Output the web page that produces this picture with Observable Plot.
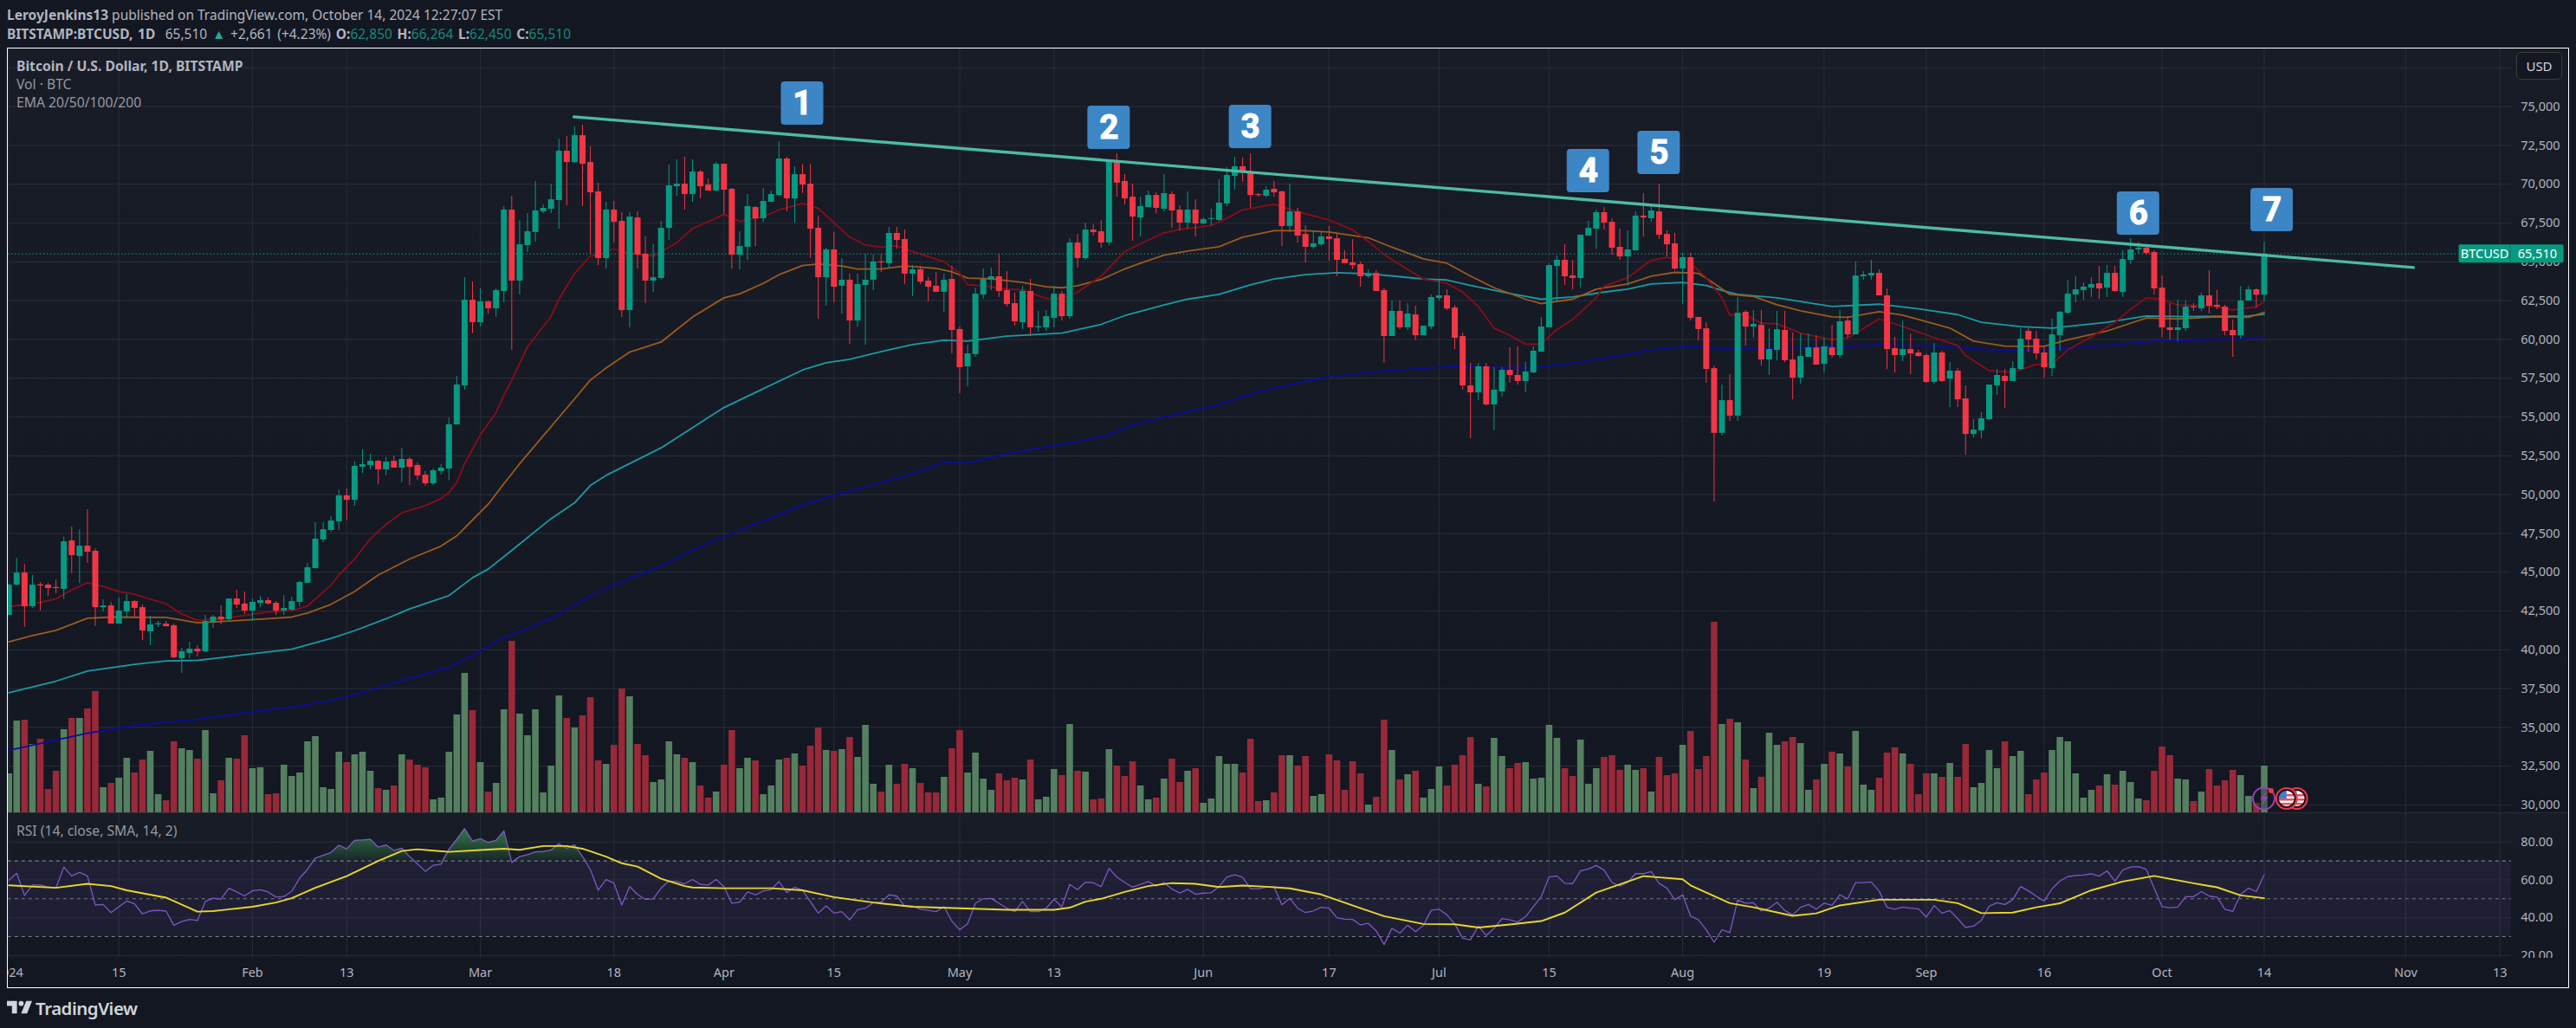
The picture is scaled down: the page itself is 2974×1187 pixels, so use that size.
<!DOCTYPE html>
<html><head><meta charset="utf-8">
<script src="https://cdn.jsdelivr.net/npm/d3@7"></script>
<script src="https://cdn.jsdelivr.net/npm/@observablehq/plot@0.6"></script>
<style>
html,body{margin:0;padding:0;background:#131722;overflow:hidden;width:2974px;height:1187px}
body{font-family:"Noto Sans",sans-serif;color:#b2b5be;position:relative}
.abs{position:absolute;white-space:nowrap}
.pane{position:absolute;overflow:hidden;left:9px;width:2956px}
.pane svg{position:absolute;left:0;top:0;max-width:none;background:transparent;overflow:hidden}
b{font-weight:700}
.t{color:#15897a}
</style></head><body>
<div class="abs" style="left:8px;top:6px;font-size:15.5px;line-height:22px"><b>LeroyJenkins13</b> published on TradingView.com, October 14, 2024 12:27:07 EST</div>
<div class="abs" style="left:8px;top:28px;font-size:15.5px;line-height:22px;word-spacing:1.7px"><b>BITSTAMP:BTCUSD, 1D</b>&nbsp; 65,510 <span style="color:#26a69a">▲</span> +2,661 (+4.23%) <b>O:</b><span class="t">62,850</span> <b>H:</b><span class="t">66,264</span> <b>L:</b><span class="t">62,450</span> <b>C:</b><span class="t">65,510</span></div>
<div class="pane" id="main" style="top:56px;height:882px;background:linear-gradient(#181c27,#131722)"></div>
<div class="abs" style="left:8px;top:938px;width:2957px;height:1.5px;background:#2a2e39"></div>
<div class="pane" id="rsi" style="top:939px;height:167px;background:linear-gradient(#181c27,#131722)"></div>
<div class="pane" id="time" style="top:1106px;height:34px"></div>
<div class="abs" style="left:19px;top:66px;font-size:15.7px;line-height:21px;color:#b2b5be"><b>Bitcoin / U.S. Dollar, 1D, BITSTAMP</b><br><span style="color:#9598a1">Vol · BTC</span><br><span style="color:#9598a1">EMA 20/50/100/200</span></div>
<div class="abs" style="left:19px;top:949px;font-size:15.7px;line-height:21px;color:#9598a1">RSI (14, close, SMA, 14, 2)</div>
<div class="abs" style="left:2905px;top:60px;width:51px;height:30px;border:1.5px solid #3d3b3a;border-radius:6px;background:#131722;color:#d1d4dc;font-size:15px;line-height:30px;text-align:center">USD</div>
<div class="abs" style="left:8px;top:55px;width:2956px;height:1084px;border:1.5px solid #fff"></div>
<svg class="abs" style="left:8px;top:1155px" width="29" height="16" viewBox="2 6 30 15"><path fill="#d1d4dc" d="M14 6H2v6h6v9h6V6Zm12 15h-7l6-15h7l-6 15Zm-7-9a3 3 0 1 0 0-6 3 3 0 0 0 0 6Z"/></svg>
<div class="abs" style="left:41px;top:1149px;font-size:20.5px;line-height:30px;font-weight:600;color:#d1d4dc;letter-spacing:-.5px">TradingView</div>
<script>
const startDate = Date.UTC(2024, 0, 1);
const day = i => new Date(startDate + i * 864e5);

const opens = [42220,44170,44950,42780,44170,44170,44020,43900,47020,46010,
46680,46350,42720,42830,41660,42440,43110,42720,41160,41610,
41660,41550,39430,39770,40040,39880,41770,42110,41940,43280,
42950,42500,43000,43170,43000,42500,42560,43060,44290,45230,
47080,47690,48250,49920,49640,51770,51880,52150,51600,52150,
51710,52270,51880,51260,50700,51490,51650,54500,57010,62530,
61080,62420,61980,63090,68340,63760,66050,66890,68220,68390,
68950,72130,71390,73130,71400,69510,65210,68340,67610,61860,
67830,65490,63760,63930,67160,69840,70010,69340,70790,69950,
69560,71290,69680,65430,65940,68500,67780,68840,69280,71630,
69060,70620,70010,67160,63980,65770,63430,63820,61190,63480,
63820,64990,64880,66830,66440,64210,64490,63760,63430,63040,
63870,60640,58240,59020,62870,63820,64040,63150,62310,61080,
63090,60750,60750,61360,62920,61470,66220,65210,67050,66940,
66220,71460,70180,69170,67830,68500,69280,68390,69340,68340,
67500,68340,67440,67720,67670,68730,70510,71130,70790,69300,
69230,69680,69510,67280,68220,66770,65940,66100,66610,66490,
65160,64930,64820,64040,64260,63150,60190,61810,60750,61580,
60240,60800,62640,62810,62030,60190,57010,56560,58240,55780,
56620,58010,57680,57290,57850,59180,60750,64710,65100,64100,
63930,66660,67110,68170,67550,65940,65320,65710,67950,67780,
68220,66770,66160,64540,65270,61420,60690,58120,53950,56060,
55060,61750,60800,60910,58680,59300,60580,58680,57510,58850,
59460,58400,59460,58960,61190,60300,64040,64090,64260,62810,
59410,58960,59350,59130,58960,57230,59130,57450,57960,56170,
53880,54110,54830,57010,57620,57290,58070,60520,60020,59130,
58120,60240,61690,62870,63150,63310,63590,63310,64260,63030,
65100,65770,65880,65600,63310,60750,60580,60690,62090,61970,
62810,62200,62090,60580,60240,62480,63200,62850];
const highs = [44230,45900,45510,44790,44340,44270,44510,47280,47910,47740,
49030,46520,43220,43060,43340,43560,43170,42890,42160,41830,
41830,41660,40100,40490,40270,42220,42220,42830,43280,43840,
43730,43280,43450,43340,43110,43500,43390,44400,45570,48190,
48190,48580,50310,50370,52100,52880,52600,52210,52380,52490,
52990,52380,52040,51490,51650,51930,54940,57620,63980,63710,
63260,62480,63260,68560,69230,67670,68110,70180,68670,70010,
72910,73080,73690,73800,72410,70070,68840,68890,68170,68170,
68220,66610,66100,67610,71240,71570,71740,71570,70900,70340,
71400,71290,69730,66940,69340,68560,69730,69560,72740,71740,
71130,71290,71290,67950,65880,66890,65210,64210,64210,65490,
65430,65490,67220,67220,67050,64760,64710,63980,64320,64210,
64710,60800,59630,63310,64540,64600,65490,64370,62980,63430,
63870,61810,61860,63430,63090,66490,66770,67500,67390,67670,
71570,71960,70620,70010,69170,69560,69450,70620,69510,68610,
69510,69000,67830,68390,70290,71070,71740,71680,71960,69400,
69840,70180,69560,70010,68450,67330,67000,66890,67280,66770,
65710,66440,64990,64490,64430,63310,62480,62480,62310,62140,
60860,62870,63870,63200,62200,60410,58460,58460,58460,58180,
58180,59460,59520,58520,59520,61420,64880,65380,66100,65100,
66720,67610,68340,68500,67780,67110,67000,68220,69400,68730,
70010,67000,66830,65550,65550,61420,61080,58290,57060,57730,
62700,61860,61860,61860,60690,61810,61810,60410,60360,60360,
60240,60080,60910,61860,61470,64990,64370,65100,64480,63260,
60130,61190,60360,59300,59070,59740,59240,58510,58120,57010,
54830,55280,57060,58070,58070,58570,60690,60690,60520,59520,
61300,61810,63820,64040,63650,63980,64710,64760,64710,65710,
66490,66270,65990,65710,64090,62310,62530,62480,62310,62980,
64430,63150,62200,61250,63420,63420,63260,66264];
const lows = [42200,44140,41460,42680,42500,43450,43630,43240,44920,44270,
45570,41500,42440,41660,41660,42050,42110,40600,40270,41440,
41490,39430,38480,39430,39540,39820,41380,41610,41850,42670,
42280,41830,42720,42890,42220,42220,42500,42780,44290,45230,
46910,47580,47690,48300,49250,51370,51600,50650,51210,51710,
50760,50590,50930,50540,50590,51260,50930,54500,56730,60360,
60800,61640,61420,62370,59300,62870,65600,66270,68110,68110,
67110,68610,71350,68560,65490,64760,64540,66220,61420,60750,
64540,62310,63040,63820,66380,69230,68340,68840,69060,69560,
69560,68060,64540,64490,65100,65990,67520,68840,69280,68220,
67500,69400,65210,61310,62140,62370,61640,59690,60800,59630,
63150,64320,64540,65830,63540,62760,63540,62420,63040,61750,
59070,56510,56950,58850,62590,63150,62700,62090,60860,60640,
60190,60470,60520,60750,61190,61310,64600,65100,66660,65880,
66030,69170,68670,66330,66610,68500,68110,68220,67160,67000,
67110,66610,67390,67330,67610,68560,69620,70120,68450,69170,
69120,69170,65990,66890,66220,64930,65820,65990,65040,64040,
64880,64490,63370,63930,63090,58460,60190,60640,60580,59910,
60240,60640,62480,61860,59350,56730,53600,56060,55720,54130,
56280,57180,57060,56560,57790,59180,60750,62420,63480,63200,
63310,66660,65820,67050,65430,65100,63430,65710,66610,67550,
66440,65320,64430,62250,61190,59910,57180,49530,53780,54720,
54720,59570,60080,58290,57680,58630,58510,56110,57120,58850,
58350,57840,58790,58790,60080,60300,63820,63820,62810,58070,
57840,58570,57730,58850,57180,57120,57230,55610,55610,52540,
53660,53600,54780,56390,55560,57290,58010,59150,58680,57510,
57620,59240,61640,62360,62530,62700,62590,62700,63030,62700,
64820,65490,65430,62870,60130,59960,59850,60520,61810,61810,
61640,61920,60240,58850,60020,62480,62030,62450];
const closes = [44170,44950,42780,44170,44120,43950,43950,46960,46070,46680,
46290,42720,42830,41660,42500,43110,42670,41220,41610,41660,
41490,39490,39880,40040,39880,41830,42110,41920,43280,42890,
42500,43060,43170,42950,42500,42670,43110,44340,45290,47130,
47740,48300,49920,49640,51820,51930,52150,51600,52100,51710,
52270,51760,51210,50700,51540,51710,54500,57070,62530,61080,
62420,61980,63150,68340,63760,66100,66940,68280,68450,69000,
72130,71400,73130,71290,69450,65210,68340,67550,61860,67890,
65430,63760,63980,67160,69900,70010,69340,70790,69840,69560,
71290,69620,65430,65990,68560,67780,68890,69340,71630,69060,
70620,69950,67110,63980,65770,63370,63820,61190,63540,63820,
64990,64930,66830,66380,64210,64490,63700,63370,63040,63820,
60580,58180,59070,62920,63870,64040,63090,62250,61140,63090,
60750,60800,61470,62920,61470,66220,65210,67050,66890,66220,
71460,70070,69060,67890,68560,69280,68450,69400,68280,67500,
68340,67440,67720,67780,68780,70570,71130,70740,69280,69270,
69620,69450,67280,68220,66660,65940,66160,66610,66440,65100,
64880,64760,64040,64210,63090,60190,61810,60750,61640,60240,
60860,62700,62810,61970,60080,57010,56560,58240,55780,56730,
58010,57680,57290,57900,59240,60800,64760,65100,64040,63930,
66720,67160,68170,67500,65880,65320,65770,67950,67830,68280,
66720,66100,64540,65270,61360,60640,58070,53950,56060,55060,
61690,60800,60970,58680,59350,60630,58630,57510,58900,59460,
58350,59520,58960,61140,60300,64090,64150,64260,62810,59350,
58960,59350,59070,58900,57230,59130,57290,57960,56110,53880,
54160,54890,57060,57680,57290,58120,60020,59960,59070,58180,
60300,61750,62920,63200,63370,63540,63260,64260,63090,65150,
65770,65880,65540,63260,60750,60580,60750,62090,62030,62810,
62140,62090,60520,60240,62480,63200,62850,65510];
// estimated volume, in hundreds of BTC
const volumes = [45,106,107,79,85,27,48,96,109,109,
120,140,29,34,40,63,46,61,71,21,
14,82,74,72,62,95,22,37,63,62,
89,51,52,21,22,55,42,46,82,88,
29,27,70,58,67,70,48,28,26,31,
67,61,55,52,15,17,70,113,161,118,
58,24,34,119,198,114,89,119,23,54,
135,109,98,112,133,60,56,78,143,134,
79,66,35,38,82,67,63,58,
31,17,24,55,95,51,63,60,21,31,
61,63,68,54,77,98,72,71,73,87,
64,101,33,24,55,33,56,51,34,23,
23,41,74,95,46,69,39,26,45,37,
40,38,61,15,18,50,43,102,48,47,
15,16,73,54,42,59,31,15,17,39,
62,35,48,51,11,16,65,56,56,46,
85,13,14,23,66,66,54,65,19,21,
67,60,26,59,45,9,18,107,72,38,
44,48,17,27,53,31,55,66,87,33,
30,86,65,51,57,58,39,40,101,86,
51,42,84,33,51,64,66,49,55,49,
51,24,64,43,45,78,94,50,65,220,
102,108,104,61,28,41,92,78,82,87,
80,26,38,56,70,68,53,94,32,26,
40,69,75,68,56,21,45,45,41,57,
41,79,29,34,72,51,82,65,71,21,
38,46,72,87,82,45,17,26,31,44,
32,48,35,16,14,48,76,66,39,38,
13,24,50,31,37,49,43,19,11,54];
const rsiValues = [59.8,63.5,51.8,57.3,57.3,56.2,55.8,66.8,62.1,63.9,
62.1,46.7,47,42.7,45.8,48.8,47.3,42,43.6,43.9,
43.5,36,37.9,39.1,38.5,48.6,50.3,49.8,55.6,53.6,
51.5,54.2,54.8,53.6,50.9,51.2,53.9,60.9,65.5,71.5,
73,74.5,78.3,76.4,80.9,81.1,81.5,77.3,78.5,75.6,
76.8,72.3,68.5,64.5,67.7,68.3,76.1,81.4,87.1,80.5,
81.8,79.8,80.9,85.9,69.2,72.3,73.3,74.8,75,75.8,
79.1,76.7,78.5,72.3,65.5,54.5,60.2,58.3,46.7,56.4,
52.3,49.7,50,55.6,59.4,59.1,57.9,60.2,
57.6,57.3,60.2,56.4,47.6,48.2,53.6,52.1,54.1,54.8,
59.1,53.3,56.1,54.5,48.5,42.4,46.2,42.4,43.2,38.9,
44.2,45,48,48.2,52.1,51.4,46.2,46.2,44.5,43.9,
43.2,45.8,38.2,33.6,36.7,47.6,50,50.2,47.6,45,
43.2,48.6,43.2,43.2,45,49.7,45.8,57.6,54.8,58.8,
58.5,56.4,66.1,61.5,58.6,56.2,57.6,59.1,56.7,58.6,
55.2,53,55,52.4,53,53.2,56.4,61.5,62.7,61.4,
55.3,55.2,56.1,56.4,46.8,50.3,45,42.7,43.6,45.5,
45,40,39.2,39.1,36.2,37,33,25.8,34.4,31.8,
36.1,32.6,35.9,43.9,44.5,41.5,36.7,29.1,28.3,35.6,
30.6,34.4,39.5,38.9,37.7,40.5,45.8,51.1,61.5,62.1,
58.2,58,64.7,65.8,67.6,65.2,58.6,56.7,58.6,63.3,
63.3,64.4,58.2,55.6,49.5,52.1,40.9,38.9,33.6,27,
33.6,32.1,49.4,47.7,47.9,43.6,45,48.2,43.8,41.5,
45.5,47,44.5,47.7,46.5,52.1,50,58.6,58.6,58.9,
54.1,45.5,44.5,45.6,45,44.7,40.3,46.4,42.4,43.8,
39.5,34.8,35.5,38.6,46.1,47.9,47,49.5,56.5,54.2,
51.4,48.8,55.3,59.4,61.7,62.3,62.6,63.2,62,64.8,
59.4,65.2,66.8,67,65.5,55.6,45.8,45.3,45.6,51.1,
51.1,53.8,51.4,50.9,44.5,43.3,52.4,55.6,53.8,62.7];
// [day number from 1 Jan 2024, value] readings
const ema20 = [[0,42740],[1,42850],[3,42960],[6,43280],[8,43860],[10,44320],[12,44080],[14,43750],[16,43580],[20,42960],[22,42310],[24,41890],[27,42000],[30,42220],[33,42440],[36,42520],[38,42820],[41,44170],[42,44820],[44,45850],[46,47150],[48,48080],[50,48820],[53,49290],[55,49750],[56,50130],[57,50780],[58,51990],[60,53850],[62,55280],[63,56400],[64,57380],[66,59520],[69,61470],[70,62590],[72,64260],[74,65380],[75,65430],[77,65840],[79,65560],[82,65380],[85,66220],[87,67150],[90,67800],[91,68080],[93,67610],[95,67800],[96,67890],[98,68350],[101,68760],[103,68450],[105,67520],[107,66590],[109,66090],[111,65940],[113,66030],[115,65660],[119,65010],[121,64260],[122,63520],[124,63460],[127,63240],[129,63200],[132,62640],[134,62640],[136,63050],[139,64080],[142,65660],[145,66400],[147,66870],[149,67090],[153,67330],[155,67800],[157,68350],[161,68710],[164,68220],[168,67700],[171,67050],[173,66310],[175,65470],[177,64820],[180,63890],[183,63610],[185,63050],[187,62120],[189,60730],[191,60260],[193,59700],[195,59700],[197,60640],[199,61290],[202,62680],[203,63430],[206,63980],[209,65100],[211,65290],[214,64910],[216,63980],[218,62680],[219,61570],[221,61600],[223,61040],[225,61010],[228,60410],[232,59980],[234,60080],[238,61320],[241,60820],[245,60110],[248,59610],[249,58960],[252,57990],[255,57880],[258,58400],[260,58400],[262,59330],[265,60170],[268,61100],[270,61940],[272,62680],[274,62590],[276,62220],[280,62160],[283,61900],[286,62090],[287,62440]];
const ema50 = [[0,40510],[3,40920],[6,41250],[10,42030],[13,42110],[20,42090],[24,41740],[28,41850],[33,42000],[36,42110],[38,42370],[41,42930],[44,43760],[47,44820],[51,45850],[55,46680],[57,47340],[59,48360],[61,49380],[63,50700],[65,51990],[72,56170],[74,57380],[76,58160],[77,58500],[79,59180],[83,59830],[85,60640],[87,61440],[91,62680],[93,62930],[96,63610],[98,64170],[101,64760],[103,64860],[106,64730],[108,64540],[111,64540],[114,64730],[118,64580],[120,64360],[122,63950],[125,63910],[129,63670],[132,63390],[134,63330],[136,63460],[139,63860],[142,64540],[144,64910],[147,65430],[150,65690],[154,65970],[157,66590],[161,67000],[165,67000],[168,66920],[173,66550],[176,65940],[180,65190],[183,64910],[186,64080],[189,63330],[193,62590],[195,62310],[199,62590],[202,63240],[206,63570],[209,64080],[212,64320],[215,64260],[217,63610],[219,62900],[222,62770],[225,62230],[228,61840],[232,61450],[234,61420],[238,61790],[241,61560],[244,61140],[247,60730],[250,59890],[254,59570],[259,59560],[262,59980],[267,60540],[272,61380],[276,61320],[281,61450],[285,61420],[287,61750]];
const ema100 = [[0,37240],[6,37980],[10,38630],[16,39060],[20,39280],[24,39320],[27,39490],[31,39750],[36,40040],[41,40730],[44,41230],[48,42000],[51,42630],[56,43490],[59,44640],[61,45200],[64,46410],[69,48450],[72,49470],[74,50590],[76,51240],[83,53010],[91,55610],[96,56820],[101,58030],[104,58500],[107,58720],[112,59330],[115,59670],[119,59950],[122,59890],[127,60210],[134,60410],[139,60970],[142,61530],[147,62220],[150,62590],[154,62900],[158,63520],[161,63890],[165,64170],[169,64300],[173,64230],[177,64040],[180,63890],[183,63830],[186,63480],[191,62960],[195,62590],[199,62740],[203,63050],[206,63240],[209,63570],[213,63670],[216,63480],[218,63150],[220,62900],[225,62680],[232,62120],[238,62270],[243,61970],[248,61600],[251,61100],[256,60820],[260,60730],[267,61100],[272,61510],[277,61470],[285,61510],[287,61620]];
const ema200 = [[0,33520],[10,34630],[16,35120],[20,35340],[24,35520],[30,35930],[36,36310],[41,36730],[46,37380],[51,38170],[56,38870],[59,39620],[62,40550],[69,42000],[74,43430],[76,43990],[83,45380],[87,46400],[91,47300],[96,48300],[101,49330],[105,49940],[110,50630],[114,51190],[119,52080],[122,52040],[127,52640],[134,53230],[140,53850],[143,54500],[148,55090],[154,55800],[159,56640],[164,57190],[168,57570],[173,57880],[177,58030],[184,58270],[190,58180],[194,58180],[198,58400],[204,58870],[209,59330],[214,59560],[219,59410],[225,59440],[232,59520],[238,59650],[243,59610],[247,59520],[252,59330],[256,59280],[260,59370],[267,59610],[273,59890],[279,59980],[285,60040],[287,60150]];
const rsiSma = [[0,57.1],[6,55.8],[10,57.9],[13,56.7],[15,54.5],[20,50.6],[24,43.2],[26,43.5],[31,45.8],[34,48],[36,50.3],[39,55.8],[43,62],[47,70],[50,75.3],[52,76.2],[56,74.8],[60,75.8],[63,76.5],[65,75.9],[68,77.9],[71,77.9],[73,76.5],[76,72.3],[78,68.8],[80,67],[83,60.6],[86,56.7],[87,56],[91,55.6],[97,55.6],[101,54.5],[105,50.9],[110,48],[115,45.8],[121,45],[127,44.2],[133,44.2],[135,45.3],[137,48.5],[139,50],[142,53.6],[145,56.7],[148,58.3],[151,57.9],[154,56.2],[157,57],[160,56.4],[163,55.5],[167,52.3],[172,45],[175,40.8],[180,36.7],[184,36.5],[187,34.8],[191,36.4],[195,38.2],[198,42.7],[202,53.3],[205,57.6],[208,62],[213,60.3],[214,57.1],[219,47.7],[222,45.5],[227,41],[230,42.3],[233,46.5],[238,49.5],[245,49.5],[248,47.7],[251,42.4],[255,42.7],[258,45.5],[261,47.6],[265,54.5],[269,59.1],[273,62.1],[278,58.2],[281,56.1],[284,51.8],[287,50.3]];
const priceTicks = [30000,32500,35000,37500,40000,42500,45000,47500,50000,52500,55000,57500,60000,62500,65000,67500,70000,72500,75000,77500];
const rsiGrid = [20,40,60,80];
const rsiLevels = [30,50,70];
const timeTickDays = [0,14,31,43,60,77,91,105,121,133,152,168,182,196,213,231,244,259,274,287,305,317];
const timeTickLabels = ["2024","15","Feb","13","Mar","18","Apr","15","May","13","Jun","17","Jul","15","Aug","19","Sep","16","Oct","14","Nov","13"];
const trendDays = [71.9,306];
const trendPrices = [74345,64635];
const noteLabels = ["1","2","3","4","5","6","7"];
const noteDays = [101,140,158,201,210,271,288];
const notePrices = [75200,73640,73690,70850,72020,68110,68340];
const lastPrice = 65510;

const candles = opens.map((o,i)=>({date:day(i),open:o,high:highs[i],low:lows[i],close:closes[i],vol:volumes[i],rsi:rsiValues[i]}));
const up = candles.filter(d=>d.close>=d.open), down = candles.filter(d=>d.close<d.open);
const pts = a => a.map(([d,v])=>({date:day(d),v}));
const UP="#089981", DOWN="#f23645", LABEL="#b2b5be", FONT="Noto Sans", GRID="#262a35";
const W=2956, gridEnd=day(318.45);
const xScale = {type:"utc",domain:[day(-0.077),day(325.74)],range:[0,W],axis:null};
const priceDomain=[29498,78717];
const base={width:W,marginLeft:0,marginRight:0,marginTop:0,marginBottom:0,style:{background:"transparent"}};
const timeTicks=timeTickDays.map(day);

// grid, behind everything
const gridPlot = Plot.plot({...base,height:882,x:xScale,y:{domain:priceDomain,range:[882,0],axis:null},marks:[
  Plot.ruleX(timeTicks,{stroke:GRID,strokeWidth:1.2}),
  Plot.ruleY(priceTicks,{x1:day(-0.1),x2:gridEnd,stroke:GRID,strokeWidth:1.2})
]});
// volume
const volumePlot = Plot.plot({...base,height:882,x:xScale,y:{domain:[0,882],range:[882,0],axis:null},marks:[
  Plot.ruleX(up,{x:"date",y1:0,y2:"vol",stroke:"#558060",strokeWidth:7.6}),
  Plot.ruleX(down,{x:"date",y1:0,y2:"vol",stroke:"#992838",strokeWidth:7.6})
]});
const iconMark = (index,{x,y})=>{
  const g=d3.create("svg:g");
  const py=y(30391);
  const flag=(cx,id)=>{
    const f=g.append("g").attr("transform",`translate(${x(day(cx))},${py})`);
    f.append("clipPath").attr("id",id).append("circle").attr("r",9.5);
    const c=f.append("g").attr("clip-path",`url(#${id})`);
    c.append("rect").attr("x",-10).attr("y",-10).attr("width",20).attr("height",20).attr("fill","#fff");
    [-5,0,5].forEach(s=>c.append("rect").attr("x",-10).attr("y",s).attr("width",20).attr("height",2.5).attr("fill","#ef4d5a"));
    c.append("rect").attr("x",-10).attr("y",-10).attr("width",10).attr("height",10).attr("fill","#3d7fd6");
    f.append("circle").attr("r",10).attr("fill","none").attr("stroke","#131722").attr("stroke-width",2);
    f.append("circle").attr("r",12).attr("fill","none").attr("stroke","#f23645").attr("stroke-width",2);
  };
  flag(291.2,"fb"); flag(289.9,"fa");
  const p=g.append("g").attr("transform",`translate(${x(day(287))},${py})`);
  p.append("circle").attr("r",12.5).attr("fill","#131722").attr("fill-opacity",.3).attr("stroke","#9c3fb5").attr("stroke-width",2);
  p.append("path").attr("d","M3,-9 L-4,1 L0,1 L-3,9 L5,-2 L1,-2 Z").attr("fill","#9c3fb5");
  p.append("circle").attr("cx",8.5).attr("cy",-9).attr("r",3).attr("fill","#f23645");
  return g.node();
};
// prices, averages and annotations
const overlay = Plot.plot({...base,height:882,x:xScale,y:{domain:priceDomain,range:[882,0],axis:null},marks:[
  Plot.lineY(pts(ema200),{x:"date",y:"v",stroke:"#0c0c9e",strokeWidth:1.8}),
  Plot.lineY(pts(ema100),{x:"date",y:"v",stroke:"#1a9aa3",strokeWidth:1.8}),
  Plot.lineY(pts(ema50),{x:"date",y:"v",stroke:"#9c5a1c",strokeWidth:1.8}),
  Plot.lineY(pts(ema20),{x:"date",y:"v",stroke:"#8a0d18",strokeWidth:1.8}),
  Plot.ruleY([lastPrice],{x1:day(-0.1),x2:day(311.8),stroke:UP,strokeWidth:1.2,strokeDasharray:"1.3,2.8"}),
  Plot.ruleX(up,{x:"date",y1:"low",y2:"high",stroke:UP,strokeWidth:1}),
  Plot.ruleX(down,{x:"date",y1:"low",y2:"high",stroke:DOWN,strokeWidth:1}),
  Plot.ruleX(up,{x:"date",y1:"open",y2:d=>Math.max(d.close,d.open+70),stroke:UP,strokeWidth:7}),
  Plot.ruleX(down,{x:"date",y1:"close",y2:d=>Math.max(d.open,d.close+70),stroke:DOWN,strokeWidth:7}),
  Plot.lineY([0,1],{x:i=>day(trendDays[i]),y:i=>trendPrices[i],stroke:"#4dbba6",strokeWidth:3.4}),
  Plot.rect(noteLabels,{x1:(d,i)=>day(noteDays[i]-2.7),x2:(d,i)=>day(noteDays[i]+2.7),y1:(d,i)=>notePrices[i]-1395,y2:(d,i)=>notePrices[i]+1395,fill:"#3d86c6",rx:4}),
  Plot.text(noteLabels,{x:(d,i)=>day(noteDays[i]),y:(d,i)=>notePrices[i],text:d=>d,fill:"#fff",stroke:"#fff",strokeWidth:1.2,fontFamily:"Roboto",fontWeight:700,fontSize:38}),
  Plot.text(priceTicks.filter(p=>p<77500),{x:day(319.65),y:d=>d,text:d=>d3.format(",")(d),textAnchor:"start",fill:LABEL,fontFamily:FONT,fontSize:14.5}),
  Plot.rect([lastPrice],{x1:day(311.8),x2:day(325.15),y1:d=>d-585,y2:d=>d+585,fill:UP,rx:2}),
  Plot.ruleX([day(318.3)],{y1:lastPrice-585,y2:lastPrice+585,stroke:"#0b6e5e",strokeWidth:1}),
  Plot.text(["BTCUSD"],{x:day(315.05),y:lastPrice,fill:"#fff",fontFamily:FONT,fontSize:14.5}),
  Plot.text([lastPrice],{x:day(321.75),y:lastPrice,text:d=>d3.format(",")(d),fill:"#fff",fontFamily:FONT,fontSize:14.5}),
  iconMark
]});
document.getElementById("main").append(gridPlot,volumePlot,overlay);

// RSI
const rsiY={domain:[18.53,95.03],range:[167,0],axis:null};
const defs=(index,{y})=>{
  const s=d3.create("svg:defs");
  const g=s.append("linearGradient").attr("id","rsiOver").attr("gradientUnits","userSpaceOnUse").attr("x1",0).attr("x2",0).attr("y1",y(87)).attr("y2",y(70));
  g.append("stop").attr("offset",0).attr("stop-color","#2f7a45");
  g.append("stop").attr("offset",1).attr("stop-color","#2f7a45").attr("stop-opacity",.12);
  return s.node();
};
const rsiPlot = Plot.plot({...base,height:167,x:xScale,y:rsiY,marks:[
  defs,
  Plot.ruleX(timeTicks,{stroke:GRID,strokeWidth:1.2}),
  Plot.rect([0],{x1:day(-0.1),x2:gridEnd,y1:30,y2:70,fill:"#7e57c2",fillOpacity:.1}),
  Plot.ruleY(rsiGrid,{x1:day(-0.1),x2:gridEnd,stroke:GRID,strokeWidth:1.2}),
  Plot.ruleY(rsiLevels,{x1:day(-0.1),x2:gridEnd,stroke:"#787b86",strokeWidth:1.1,strokeDasharray:"4,4"}),
  Plot.areaY(candles,{x:"date",y1:70,y2:d=>Math.max(d.rsi,70),fill:"url(#rsiOver)"}),
  Plot.lineY(candles,{x:"date",y:"rsi",stroke:"#7e57c2",strokeWidth:1.3}),
  Plot.lineY(pts(rsiSma),{x:"date",y:"v",stroke:"#e8d72a",strokeWidth:1.9}),
  Plot.text(rsiGrid,{x:day(319.65),y:d=>d,text:d=>d.toFixed(2),textAnchor:"start",fill:LABEL,fontFamily:FONT,fontSize:14.5})
]});
document.getElementById("rsi").append(rsiPlot);

// time axis
const timePlot = Plot.plot({...base,height:34,x:xScale,y:{axis:null,domain:[0,1],range:[34,0]},marks:[
  Plot.text(timeTickLabels,{x:(d,i)=>timeTicks[i],y:.5,text:d=>d,fill:LABEL,fontFamily:FONT,fontSize:14.5,fontWeight:d=>d==="2024"?700:400})
]});
document.getElementById("time").append(timePlot);
</script>
</body></html>
